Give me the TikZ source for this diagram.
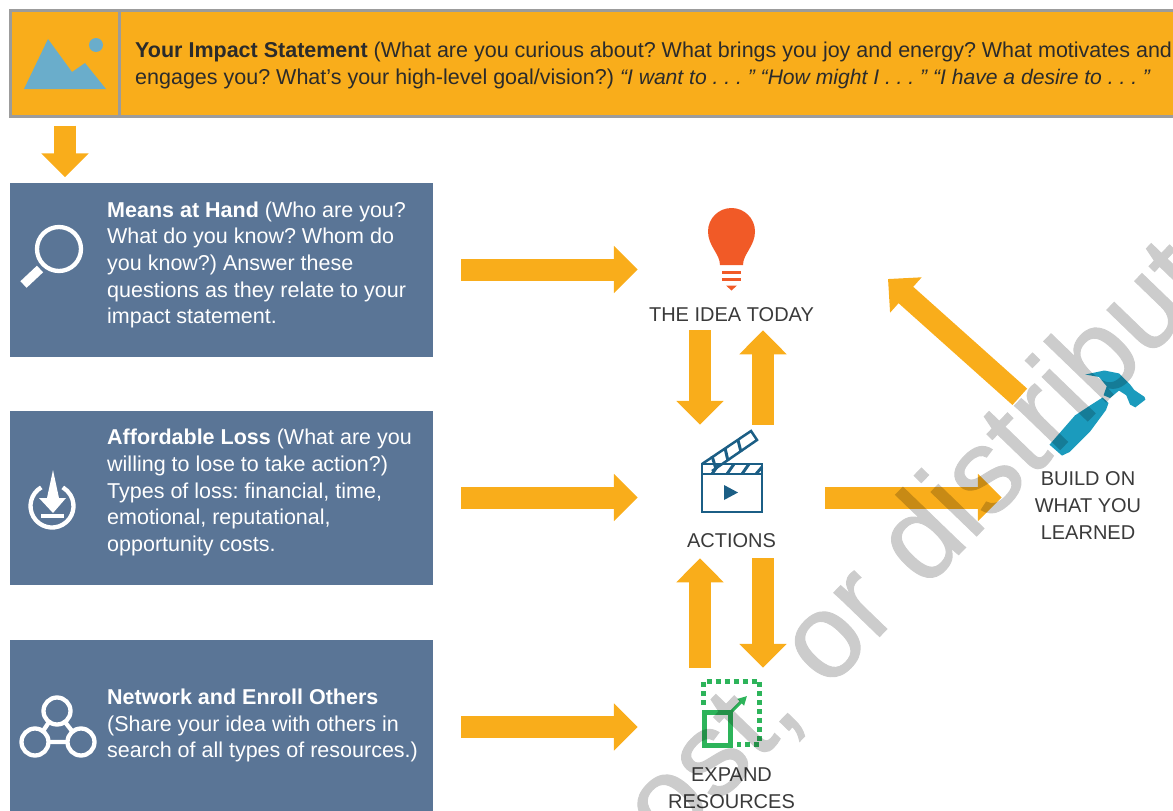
\documentclass[tikz,border=0pt]{standalone}
\usepackage{fontspec}
\setmainfont{Liberation Sans}
\newfontfamily\stampfont{Liberation Sans}[RawFeature={embolden=0.8}]
\usetikzlibrary{arrows.meta}
\definecolor{amber}{HTML}{F9AD1B}
\definecolor{rimgray}{HTML}{9C9C9C}
\definecolor{slate}{HTML}{5A7596}
\definecolor{skyblue}{HTML}{6AADCB}
\definecolor{flame}{HTML}{F15A27}
\definecolor{navyblue}{HTML}{1B5E85}
\definecolor{leaf}{HTML}{2DB45A}
\definecolor{teal}{HTML}{1B9BBD}
\definecolor{inkgray}{HTML}{2B2B2B}
\definecolor{labelgray}{HTML}{3A3A3A}
\tikzset{
  bigarrow/.style={draw=amber,line width=22pt,-{Triangle[width=46pt,length=24pt]}},
  leftarrow/.style={bigarrow,shorten <=28pt,shorten >=63.5pt},
  bluebox/.style={fill=slate,minimum width=423pt,minimum height=174pt,inner sep=0pt},
  bluetext/.style={anchor=west,align=left,text=white,inner sep=0pt,font=\fontsize{21.5}{26.7}\selectfont},
  steplabel/.style={align=center,text=labelgray,inner sep=0pt,font=\fontsize{20}{26.6}\selectfont},
  iconspot/.style={minimum width=60pt,inner sep=0pt},
  iconline/.style={draw=white,line width=4.3pt}
}
\begin{document}
\frenchspacing
\begin{tikzpicture}[x=1pt,y=-1pt]
\clip (0,0) rectangle (1173,811);
% top banner
\node[fill=amber,draw=rimgray,line width=3pt,minimum width=1200pt,minimum height=106pt,anchor=north west,inner sep=0pt] (banner) at (9,9) {};
\node[draw=rimgray,line width=3pt,minimum width=109pt,minimum height=106pt,anchor=north west,inner sep=0pt] (picbox) at (9,9) {};
\node[anchor=west,align=left,text=inkgray,inner sep=0pt,font=\fontsize{21.5}{26.7}\selectfont] (impact) at (135,65.5)
  {\textbf{Your Impact Statement} (What are you curious about? What brings you joy and energy? What motivates and\\
   engages you? What’s your high-level goal/vision?) {\fontsize{21.1}{26.7}\selectfont\textit{“I want to . . . ” “How might I . . . ” “I have a desire to . . . ”}}};
\fill[skyblue] (24,89) -- (48,39) -- (72,72) -- (85,63) -- (106,89) -- cycle;
\fill[skyblue] (96,45) circle (7);
% left column
\node[bluebox] (means) at (221.5,269.5) {};
\node[bluebox] (loss) at (221.5,497.5) {};
\node[bluebox] (network) at (221.5,727) {};
\node[bluetext] (meanstxt) at (107,265) {\textbf{Means at Hand} (Who are you?\\What do you know? Whom do\\you know?) Answer these\\questions as they relate to your\\impact statement.};
\node[bluetext] (losstxt) at (107,492.5) {\textbf{Affordable Loss} (What are you\\willing to lose to take action?)\\Types of loss: financial, time,\\emotional, reputational,\\opportunity costs.};
\node[bluetext] (networktxt) at (107,725.5) {\textbf{Network and Enroll Others}\\(Share your idea with others in\\search of all types of resources.)};
\draw[iconline] (59,249) circle (22);
\draw[draw=white,line width=9pt] (23.5,284.5) -- (40,269);
\draw[iconline] (41.25,487.4) arc (-120:-420:21.5);
\fill[white] (53,470) -- (59,498) -- (66,498) -- (53,513) -- (39,498) -- (47,498) -- cycle;
\fill[white] (41,514) rectangle (64,518);
\draw[iconline] (57,711) circle (13.5) (35,742) circle (13.5) (81,742) circle (13.5);
\draw[iconline] (48.5,742) -- (67.5,742) (49,722) -- (43,731) (65,722) -- (72,731);
% step icons
\node[iconspot,minimum height=82pt] (bulb) at (731.5,249) {};
\node[iconspot,minimum height=81pt] (clapper) at (731.5,471.5) {};
\node[iconspot,minimum height=67pt] (growbox) at (731.5,713.5) {};
\node[minimum width=96pt,minimum height=86pt,inner sep=0pt] (hammer) at (1098,412) {};
\fill[flame] (720,265) .. controls (720,254) and (708,246) .. (708,231.5) .. controls (708,218) and (719,208) .. (731.5,208) .. controls (744,208) and (755,218) .. (755,231.5) .. controls (755,246) and (743,254) .. (743,265) -- cycle;
\draw[flame,line width=3pt] (722,272) -- (741,272) (722,279) -- (741,279);
\fill[flame] (726,285.5) -- (737,285.5) -- (731.5,290.5) -- cycle;
\draw[navyblue,line width=2.5pt] (702,464) rectangle (762,474) (702,474) rectangle (762,512);
\draw[navyblue,line width=2.5pt] (702,464) -- (751,431) -- (757,440) -- (712,471);
\draw[navyblue,line width=3pt] (712,474) -- (719,464) (727,474) -- (734,464) (742,474) -- (749,464) (756,474) -- (762,467);
\draw[navyblue,line width=3pt] (712,456) -- (716,469) (725,448) -- (728,461) (738,440) -- (741,452);
\fill[navyblue] (724,485) -- (738,492.5) -- (724,500) -- cycle;
\draw[leaf,line width=5pt,dash pattern=on 5pt off 4pt] (703.5,705) -- (703.5,681) -- (759.3,681) -- (759.3,744.5) -- (737,744.5);
\draw[leaf,line width=5pt] (704,712) rectangle (730.5,745);
\draw[leaf,line width=3pt,-{Triangle[width=9pt,length=9pt]}] (731,712) -- (747,696);
\fill[teal] (1049.5,444.7) -- (1075,415.4) -- (1091.6,404.5) -- (1102.6,397.5) -- (1108.5,403) -- (1106,410) -- (1089.8,431.9) -- (1069.6,452) -- (1062,455.6) -- cycle;
\fill[teal] (1085.4,374.5) -- (1104.4,370.5) -- (1119,373.4) -- (1130,384.4) -- (1134.3,390) -- (1144.6,397) -- (1145.3,399.7) -- (1135.3,407.4) -- (1130,404.5) -- (1126.3,395.3) -- (1119,390.6) -- (1110,398) -- (1103.6,395.3) -- (1106.7,386.2) -- (1099,377) -- cycle;
% step labels
\node[steplabel] (ideatxt) at (731.5,315) {THE IDEA TODAY};
\node[steplabel] (actionstxt) at (731.5,541) {ACTIONS};
\node[steplabel] (expandtxt) at (731.5,788) {EXPAND\\RESOURCES};
\node[steplabel] (buildtxt) at (1088,505.5) {BUILD ON\\WHAT YOU\\LEARNED};
% arrows
\coordinate (ideaback) at (888,279);
\draw[bigarrow,shorten <=7.5pt,shorten >=5pt] (picbox.south) -- (picbox.south |- means.north);
\draw[leftarrow] (means.east) -- (means.east -| bulb.west);
\draw[leftarrow] (loss.east) -- (loss.east -| clapper.west);
\draw[leftarrow] (network.east) -- (network.east -| growbox.west);
\draw[bigarrow,shorten <=8pt,shorten >=6pt] ([xshift=-31.5pt]ideatxt.south) -- ([xshift=-31.5pt]clapper.north);
\draw[bigarrow,shorten <=6pt,shorten >=8pt] ([xshift=31.5pt]clapper.north) -- ([xshift=31.5pt]ideatxt.south);
\draw[bigarrow,shorten <=12pt,shorten >=10pt] ([xshift=-31.5pt]growbox.north) -- ([xshift=-31.5pt]actionstxt.south);
\draw[bigarrow,shorten <=10pt,shorten >=12pt] ([xshift=31.5pt]actionstxt.south) -- ([xshift=31.5pt]growbox.north);
\draw[bigarrow,shorten <=63.5pt,shorten >=48pt] (loss.east -| clapper.east) -- (loss.east -| hammer.west);
\draw[bigarrow] ([shift={(-30,28)}]hammer.north west) -- (ideaback);
% watermark
\begin{scope}[transparency group,opacity=.2]
\node[rotate=46,inner sep=0pt,font=\stampfont\fontsize{120}{120}\selectfont] (stamp) at (921,549) {post, or distribute};
\end{scope}
\end{tikzpicture}
\end{document}
